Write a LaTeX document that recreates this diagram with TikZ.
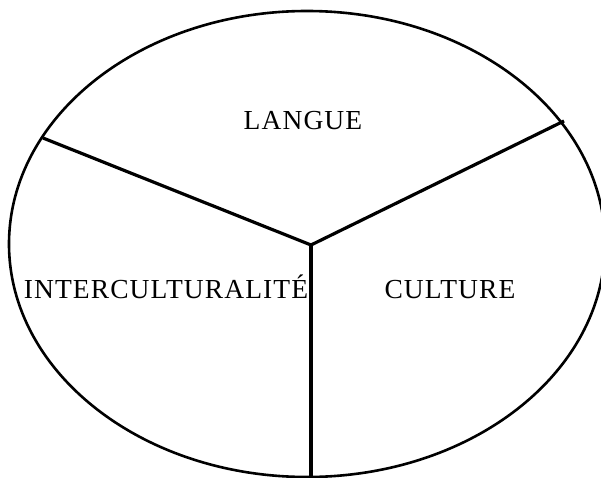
\documentclass[tikz,border=0pt]{standalone}
\usepackage{fontspec}
\setmainfont{Liberation Serif}
\newfontfamily\labfont[LetterSpace=4]{Liberation Serif}
\begin{document}
\begin{tikzpicture}[x=1pt,y=-1pt,
  divider/.style={line width=3.2pt},
  rim/.style={line width=2.6pt},
  lab/.style={font=\labfont\fontsize{27.5}{31}\selectfont, inner sep=0pt, anchor=base}]
\useasboundingbox (0,0) rectangle (601,478);
\clip (0,0) rectangle (601,478);
\fill[white] (0,0) rectangle (601,478);
\draw[rim] (307,244) ellipse [x radius=298, y radius=233];
\coordinate (c) at (311,245);
\coordinate (l) at (43,138);
\coordinate (r) at (564,121);
\coordinate (b) at (311,478);
\draw[divider] (l) -- (c) -- (r);
\draw[divider] (c) -- (b);
\node[lab] (langue) at (303,130) {LANGUE};
\node[lab] (inter) at (166,298) {INTERCULTURALITÉ};
\node[lab] (culture) at (450,298) {CULTURE};
\end{tikzpicture}
\end{document}
